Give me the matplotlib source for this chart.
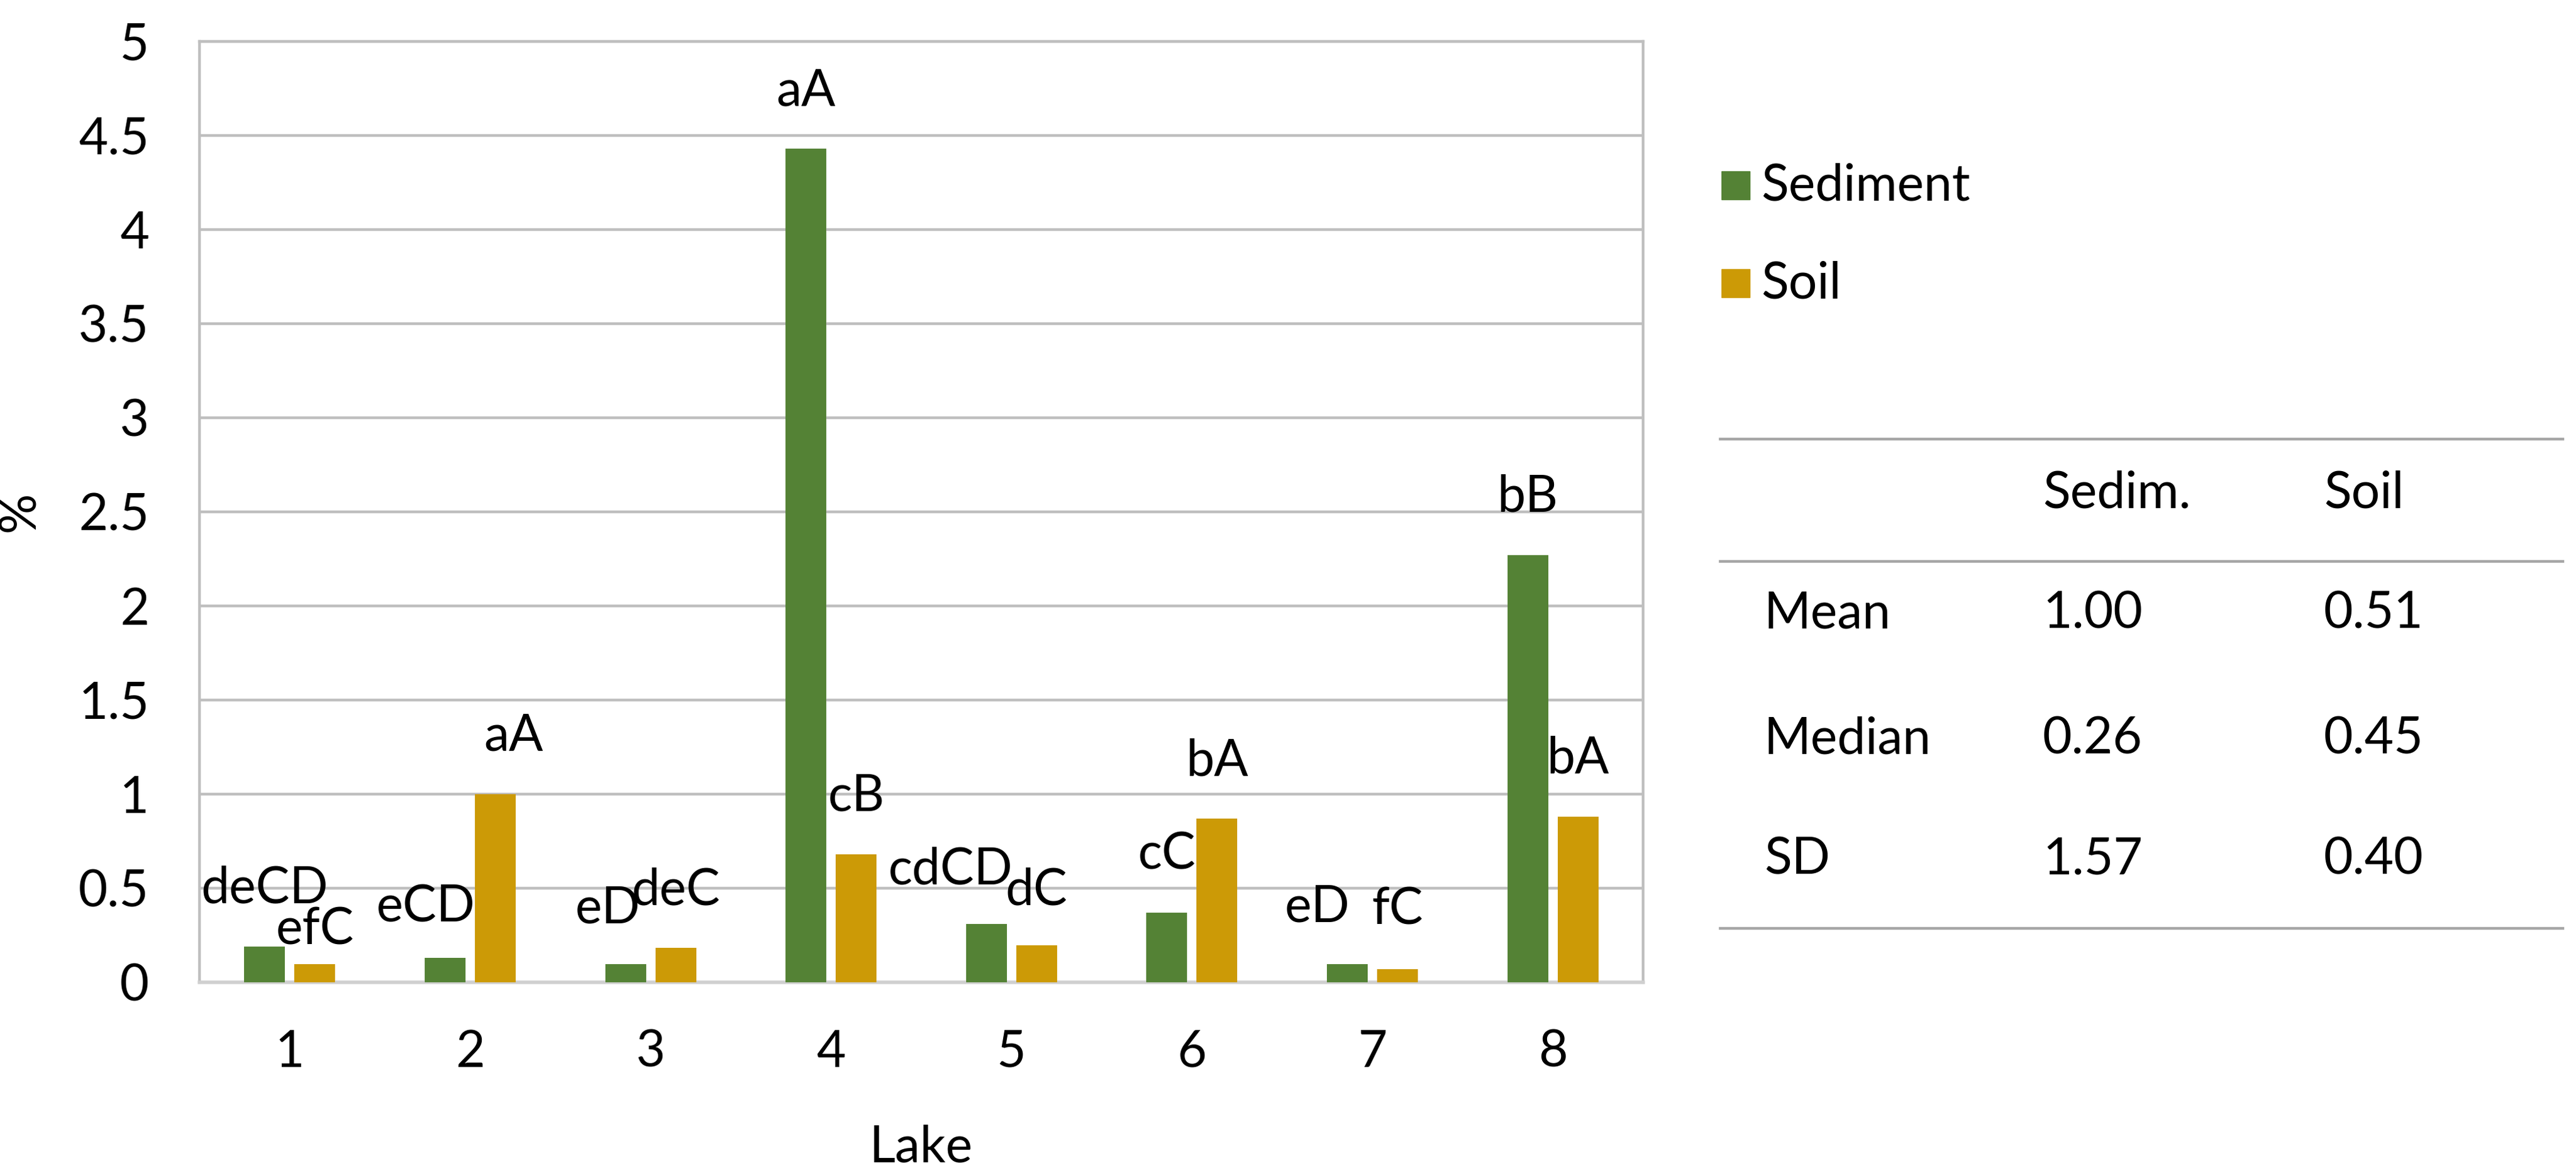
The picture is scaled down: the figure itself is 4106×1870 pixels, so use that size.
import matplotlib.pyplot as plt
from matplotlib.patches import Rectangle
import numpy as np

plt.rcParams['font.family'] = ['Lato', 'DejaVu Sans']

# data
lakes = [1, 2, 3, 4, 5, 6, 7, 8]
sediment = [0.19, 0.13, 0.095, 4.43, 0.31, 0.37, 0.095, 2.27]
soil = [0.095, 1.00, 0.183, 0.68, 0.197, 0.87, 0.07, 0.88]
series_names = ['Sediment', 'Soil']

# significance letters above the bars
sed_letters = ['deCD', 'eCD', 'eD', 'aA', 'cdCD', 'cC', 'eD', 'bB']
soil_letters = ['efC', 'aA', 'deC', 'cB', 'dC', 'bA', 'fC', 'bA']

# label placement (baseline height and sideways shift, data units)
sed_label_y = [0.423, 0.323, 0.316, 4.657, 0.523, 0.60, 0.323, 2.503]
sed_label_dx = [0.0, -0.106, -0.10, 0.0, -0.20, 0.0, -0.166, 0.0]
soil_label_y = [0.20, 1.23, 0.413, 0.91, 0.413, 1.097, 0.307, 1.11]
soil_label_dx = [0.0, 0.10, 0.0, 0.0, 0.0, 0.0, 0.0, 0.0]

# summary table
stat_names = ['Mean', 'Median', 'SD']
stat_cols = ['Sedim.', 'Soil']
stat_sed = ['1.00', '0.26', '1.57']
stat_soil = ['0.51', '0.45', '0.40']

colors = ['#548235', '#CC9A06']
grid_c = '#BFBFBF'
fs = 58

fig = plt.figure(figsize=(41.06, 18.70), dpi=100)
ax = fig.add_axes([0.07745, 0.16257, 0.5604, 0.80214])

x = np.array(lakes, dtype=float)
w = 0.226
off = 0.139
ax.bar(x - off, sediment, width=w, color=colors[0], zorder=3)
ax.bar(x + off, soil, width=w, color=colors[1], zorder=3)

for i in range(len(lakes)):
    ax.text(x[i] - off + sed_label_dx[i], sed_label_y[i], sed_letters[i],
            ha='center', va='baseline', fontsize=fs, zorder=4)
    ax.text(x[i] + off + soil_label_dx[i], soil_label_y[i], soil_letters[i],
            ha='center', va='baseline', fontsize=fs, zorder=4)

ax.set_xlim(0.5, 8.5)
ax.set_ylim(0, 5)
ax.set_yticks(np.arange(0, 5.01, 0.5))
ax.set_yticklabels(['0', '0.5', '1', '1.5', '2', '2.5', '3', '3.5', '4', '4.5', '5'])
ax.set_xticks(x)
ax.set_xticklabels([str(l) for l in lakes])
ax.tick_params(axis='both', length=0, labelsize=fs)
ax.tick_params(axis='y', pad=58)
ax.tick_params(axis='x', pad=54)
ax.grid(axis='y', color=grid_c, linewidth=3.2, zorder=0)
for s in ax.spines.values():
    s.set_color(grid_c)
    s.set_linewidth(3.2)
ax.spines['bottom'].set_color('#D0D0D0')
ax.spines['bottom'].set_linewidth(4)

ax.set_xlabel('Lake', fontsize=fs, labelpad=56)
ax.set_ylabel('%', fontsize=fs, labelpad=40)

# legend drawn by hand on the right
W, H = 4106, 1870
for k, name in enumerate(series_names):
    yc = 296 + k * 156
    fig.patches.append(Rectangle((2744 / W, 1 - (yc + 22) / H), 45 / W, 45 / H,
                                 transform=fig.transFigure, color=colors[k]))
    fig.text(2807 / W, 1 - yc / H, name, fontsize=fs, va='center', ha='left')

# summary table
for yl in [700, 895, 1480]:
    fig.add_artist(plt.Line2D([2742 / W, 4085 / W], [1 - yl / H, 1 - yl / H],
                              color='#A6A6A6', linewidth=3.2, transform=fig.transFigure))
col_x = [3256, 3704]
for j, c in enumerate(stat_cols):
    fig.text(col_x[j] / W, 1 - 786 / H, c, fontsize=fs, va='center', ha='left')
row_y = [979, 1178, 1370]
for r, nm in enumerate(stat_names):
    fig.text(2812 / W, 1 - row_y[r] / H, nm, fontsize=fs, va='center', ha='left')
    fig.text(col_x[0] / W, 1 - row_y[r] / H, stat_sed[r], fontsize=fs, va='center', ha='left')
    fig.text(col_x[1] / W, 1 - row_y[r] / H, stat_soil[r], fontsize=fs, va='center', ha='left')

fig.savefig('out.png', dpi=100)
